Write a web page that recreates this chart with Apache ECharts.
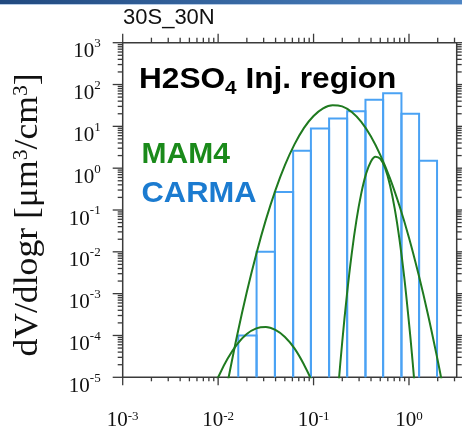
<!DOCTYPE html>
<html><head><meta charset="utf-8">
<script src="https://cdn.jsdelivr.net/npm/echarts@6/dist/echarts.min.js"></script>
<style>html,body{margin:0;padding:0;background:#fff}#c{width:462px;height:426px}</style>
</head><body><div id="c"></div>
<script>
// CARMA histogram: bin edges (radius, um) and dV/dlogr values
const binEdges = [0.01626, 0.02529, 0.03936, 0.0611, 0.0938, 0.1455, 0.2249, 0.3499, 0.5358, 0.8337, 1.276, 1.968];
const carmaValues = [1.0e-4, 1.0e-2, 0.27, 2.6, 8.9, 15.4, 23, 43, 62, 20, 1.5];

// MAM4 modes
const accumX = [0.01122, 0.01259, 0.01585, 0.01995, 0.02512, 0.03162, 0.03981, 0.05012, 0.0631, 0.07943, 0.1, 0.1259, 0.1585, 0.1995, 0.2512, 0.3162, 0.3981, 0.5012, 0.631, 0.7943, 1.0, 1.259, 1.585, 1.995, 2.239];
const accumY = [1.9e-6, 7.6e-6, 1.03e-4, 1.08e-3, 8.9e-3, 0.058, 0.295, 1.18, 3.7, 9.2, 17.7, 27, 32, 30, 22, 12.8, 5.8, 2.06, 0.58, 0.126, 0.0218, 2.9e-3, 3.1e-4, 2.6e-5, 6.8e-6];
const aitkenX = [0.008913, 0.01, 0.01259, 0.01585, 0.01995, 0.02512, 0.03162, 0.03981, 0.05012, 0.0631, 0.07943, 0.1];
const aitkenY = [5.5e-6, 1.0e-5, 2.8e-5, 6.2e-5, 1.08e-4, 1.48e-4, 1.6e-4, 1.36e-4, 9.2e-5, 4.9e-5, 2.0e-5, 6.7e-6];
const coarseX = [0.1738, 0.182, 0.1995, 0.2239, 0.2512, 0.2818, 0.3162, 0.3548, 0.3981, 0.4467, 0.5012, 0.5623, 0.631, 0.7079, 0.7943, 0.8913, 1.0, 1.0715, 1.148];
const coarseY = [1.7e-6, 6.2e-6, 6.8e-5, 9.6e-4, 9.1e-3, 0.058, 0.25, 0.73, 1.43, 1.88, 1.67, 1.0, 0.40, 0.109, 0.020, 2.5e-3, 2.0e-4, 3.8e-5, 6.2e-6];

// axes
const xMin = 0.001, xMax = 3.1623, yMin = 1e-5, yMax = 1e3;
const xMajorTicks = [0.001, 0.01, 0.1, 1];
const xMinorTicks = [0.002, 0.003, 0.004, 0.005, 0.006, 0.007, 0.008, 0.009,
  0.02, 0.03, 0.04, 0.05, 0.06, 0.07, 0.08, 0.09,
  0.2, 0.3, 0.4, 0.5, 0.6, 0.7, 0.8, 0.9, 2, 3];
const yMajorTicks = [1e-5, 1e-4, 1e-3, 1e-2, 1e-1, 1, 10, 100, 1000];
const yMinorTicks = [];
[1e-5, 1e-4, 1e-3, 1e-2, 1e-1, 1, 10, 100].forEach(d => [2,3,4,5,6,7,8,9].forEach(m => yMinorTicks.push(d * m)));

const axisColor = '#3a3a3a';
const chart = echarts.init(document.getElementById('c'), null, {renderer: 'canvas'});

function sup(v) {
  const e = Math.log10(v), r = Math.round(e);
  if (Math.abs(e - r) > 1e-6) return '';
  return '{b|10}{s|' + r + '}';
}
const richX = {
  b: {fontFamily: 'Liberation Serif', fontSize: 21, color: '#111', lineHeight: 21, verticalAlign: 'bottom'},
  s: {fontFamily: 'Liberation Serif', fontSize: 13, color: '#111', lineHeight: 13, verticalAlign: 'top'}
};
const richY = {
  b: {fontFamily: 'Liberation Serif', fontSize: 21, color: '#111', lineHeight: 21, padding: [9, 0, 0, 0], verticalAlign: 'top'},
  s: {fontFamily: 'Liberation Serif', fontSize: 13, color: '#111', lineHeight: 13, padding: [5, 0, 0, 0], verticalAlign: 'top'}
};

function xTickRender(len, lenTop) {
  return function (params, api) {
    const v = api.value(0);
    const b = api.coord([v, yMin]), t = api.coord([v, yMax]);
    const st = {stroke: axisColor, lineWidth: 1.3};
    return {type: 'group', children: [
      {type: 'line', shape: {x1: b[0], y1: b[1], x2: b[0], y2: b[1] + len}, style: st},
      {type: 'line', shape: {x1: t[0], y1: t[1], x2: t[0], y2: t[1] - lenTop}, style: st}
    ]};
  };
}
function yTickRender(len) {
  return function (params, api) {
    const v = api.value(1);
    const l = api.coord([xMin, v]), r = api.coord([xMax, v]);
    const st = {stroke: axisColor, lineWidth: 1.3};
    return {type: 'group', children: [
      {type: 'line', shape: {x1: l[0], y1: l[1], x2: l[0] - len, y2: l[1]}, style: st},
      {type: 'line', shape: {x1: r[0], y1: r[1], x2: r[0] + len, y2: r[1]}, style: st}
    ]};
  };
}
function zip(a, b) { return a.map((v, i) => [v, b[i]]); }
const curveStyle = {color: '#1f7a1f', width: 2};

chart.setOption({
  animation: false,
  backgroundColor: '#fff',
  grid: {left: 122.7, right: 5.3, top: 42.7, bottom: 48.7, containLabel: false, outerBoundsMode: 'none',
         show: true, borderColor: axisColor, borderWidth: 1.5, backgroundColor: 'transparent'},
  xAxis: {
    type: 'log', logBase: 10, min: xMin, max: xMax, interval: 1,
    axisLine: {show: false}, axisTick: {show: false}, splitLine: {show: false}, minorTick: {show: false},
    axisLabel: {margin: 33, formatter: sup, rich: richX, showMaxLabel: false, hideOverlap: false}
  },
  yAxis: {
    type: 'log', logBase: 10, min: yMin, max: yMax, interval: 1,
    axisLine: {show: false}, axisTick: {show: false}, splitLine: {show: false}, minorTick: {show: false},
    axisLabel: {margin: 22, formatter: sup, rich: richY, hideOverlap: false}
  },
  graphic: [
    {type: 'rect', left: 0, top: 0, shape: {width: 462, height: 4},
     style: {fill: new echarts.graphic.LinearGradient(0, 0, 1, 0, [{offset: 0, color: '#21497f'}, {offset: 1, color: '#4d85c4'}])}},
    {type: 'rect', left: 0, top: 4, shape: {width: 462, height: 1}, style: {fill: '#b5cbe6'}},
    {type: 'text', x: 123, y: 18, style: {text: '30S_30N', font: '22px "Liberation Sans"', fill: '#111', verticalAlign: 'middle'}},
    {type: 'text', x: 139, y: 80, scaleX: 1.09, z: 10, style: {
      text: '{a|H2SO}{s|4}{a| Inj. region}', verticalAlign: 'middle',
      rich: {
        a: {fontFamily: 'Liberation Sans', fontWeight: 'bold', fontSize: 29, lineHeight: 29, verticalAlign: 'top', fill: '#000'},
        s: {fontFamily: 'Liberation Sans', fontWeight: 'bold', fontSize: 19, lineHeight: 19, padding: [14, 0, 0, 0], verticalAlign: 'top', fill: '#000'}
      }}},
    {type: 'text', x: 141.5, y: 155, z: 10, style: {text: 'MAM4', font: 'bold 30px "Liberation Sans"', fill: '#1a8a1a', verticalAlign: 'middle'}},
    {type: 'text', x: 141.5, y: 194, scaleX: 1.03, z: 10, style: {text: 'CARMA', font: 'bold 30px "Liberation Sans"', fill: '#1b7bd0', verticalAlign: 'middle'}},
    {type: 'text', x: 28, y: 215, rotation: Math.PI / 2, scaleX: 1.08, style: {
      text: '{n|dV/dlogr [μm}{s|3}{n|/cm}{s|3}{n|]}', align: 'center', verticalAlign: 'middle',
      rich: {
        n: {fontFamily: 'Liberation Serif', fontSize: 33, lineHeight: 33, verticalAlign: 'top', fill: '#111'},
        s: {fontFamily: 'Liberation Serif', fontSize: 20, lineHeight: 20, verticalAlign: 'top', fill: '#111'}
      }}}
  ],
  series: [
    {
      type: 'custom', name: 'CARMA', z: 2,
      data: carmaValues.map((v, i) => [binEdges[i], binEdges[i + 1], v]),
      encode: {x: [0, 1], y: 2},
      renderItem: function (params, api) {
        const x0 = api.value(0), x1 = api.value(1), v = api.value(2);
        const pts = [api.coord([x0, yMin]), api.coord([x0, v]), api.coord([x1, v]), api.coord([x1, yMin])];
        return {type: 'polyline', shape: {points: pts}, style: {stroke: '#4aa2f4', lineWidth: 2, fill: null}};
      }
    },
    {type: 'line', name: 'MAM4 accum', z: 3, data: zip(accumX, accumY), showSymbol: false, smooth: 0.4, lineStyle: curveStyle, clip: true},
    {type: 'line', name: 'MAM4 aitken', z: 3, data: zip(aitkenX, aitkenY), showSymbol: false, smooth: 0.4, lineStyle: curveStyle, clip: true},
    {type: 'line', name: 'MAM4 coarse', z: 3, data: zip(coarseX, coarseY), showSymbol: false, smooth: 0.4, lineStyle: curveStyle, clip: true},
    {type: 'custom', clip: false, silent: true, z: 5, data: xMajorTicks.map(v => [v, yMin]), encode: {x: 0, y: 1}, renderItem: xTickRender(8, 9)},
    {type: 'custom', clip: false, silent: true, z: 5, data: xMinorTicks.map(v => [v, yMin]), encode: {x: 0, y: 1}, renderItem: xTickRender(4, 5)},
    {type: 'custom', clip: false, silent: true, z: 5, data: yMajorTicks.map(v => [xMin, v]), encode: {x: 0, y: 1}, renderItem: yTickRender(10)},
    {type: 'custom', clip: false, silent: true, z: 5, data: yMinorTicks.map(v => [xMin, v]), encode: {x: 0, y: 1}, renderItem: yTickRender(5)}
  ]
});
</script>
</body></html>
